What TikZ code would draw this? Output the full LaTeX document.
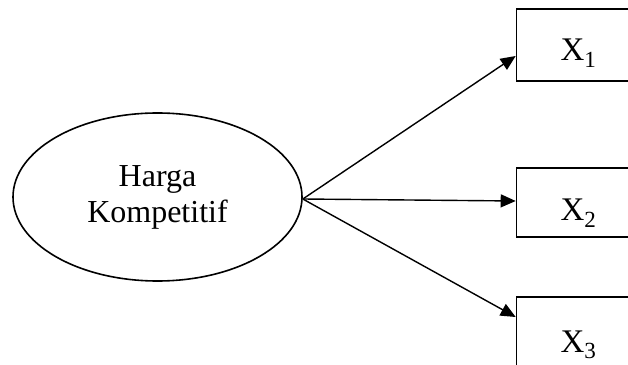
\documentclass[tikz,border=0pt]{standalone}
\usepackage{fontspec}
\setmainfont{Liberation Serif}
\usetikzlibrary{arrows.meta,shapes.geometric}
\begin{document}
\begin{tikzpicture}[x=1pt,y=1pt,
  construct/.style={draw=black, line width=1.6pt, ellipse, inner sep=0pt,
    minimum width=289pt, minimum height=168pt, align=center,
    font=\fontsize{32}{36}\selectfont},
  indicator/.style={draw=black, line width=1.6pt, rectangle, inner sep=0pt,
    minimum width=124pt},
  lbl/.style={anchor=base, inner sep=0pt, font=\fontsize{33}{36}\selectfont},
  link/.style={line width=1.4pt, -{Triangle[length=15pt,width=13pt]}}]
\useasboundingbox (0,0) rectangle (628,364);
\fill[white] (0,0) rectangle (628,364);
% latent construct
\node[construct] (hk) at (157.5,167) {Harga\\Kompetitif};
% indicator boxes
\node[indicator, minimum height=72pt] (x1) at (578.5,319) {};
\node[indicator, minimum height=69pt] (x2) at (578.5,161.5) {};
\node[indicator, minimum height=72pt] (x3) at (578.5,31) {};
% indicator labels
\node[lbl] (l1) at ([yshift=-16pt]x1.center) {X\textsubscript{1}};
\node[lbl] (l2) at ([yshift=-18.5pt]x2.center) {X\textsubscript{2}};
\node[lbl] (l3) at ([yshift=-19pt]x3.center) {X\textsubscript{3}};
% paths from construct to indicators
\coordinate (src) at ([yshift=-2pt]hk.east);
\draw[link] (src) -- ([yshift=-11pt]x1.west);
\draw[link] (src) -- ([yshift=1.5pt]x2.west);
\draw[link] (src) -- ([yshift=16pt]x3.west);
\end{tikzpicture}
\end{document}
